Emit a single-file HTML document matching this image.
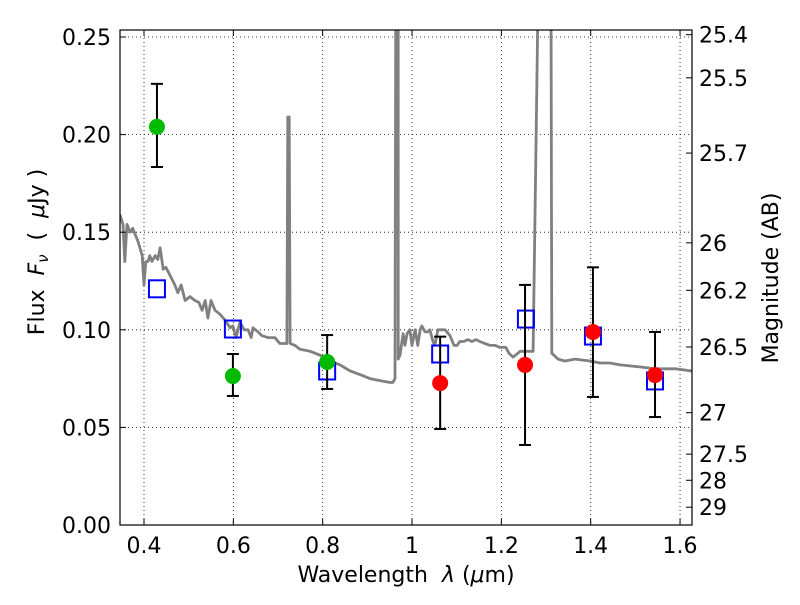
<!DOCTYPE html>
<html><head><meta charset="utf-8"><style>
body{margin:0;background:#fff}
svg text{font-family:"DejaVu Sans","Liberation Sans",sans-serif;fill:#000}
</style></head><body>
<svg id="chart" width="800" height="600" viewBox="0 0 800 600" xmlns="http://www.w3.org/2000/svg">
<defs><clipPath id="pc"><rect x="120" y="30" width="572" height="495"/></clipPath></defs>
<rect x="0" y="0" width="800" height="600" fill="#fff"/>
<g id="grid"></g>
<g id="spec" clip-path="url(#pc)"></g>
<g id="marks"></g>
<g id="axes"></g>
<text x="406" y="582" text-anchor="middle" font-size="22" xml:space="preserve">Wavelength  <tspan font-style="italic">λ</tspan> (<tspan font-style="italic">μ</tspan>m)</text>
<text transform="translate(44,252) rotate(-90)" text-anchor="middle" font-size="22" xml:space="preserve">Flux  <tspan font-style="italic">F</tspan><tspan font-style="italic" font-size="15" dy="4">ν</tspan><tspan dy="-4">  (  </tspan><tspan font-style="italic">μ</tspan>Jy )</text>
<text transform="translate(778,278) rotate(-90)" text-anchor="middle" font-size="22">Magnitude (AB)</text>
</svg>
<script>
const specW=[0.346,0.353,0.357,0.362,0.369,0.375,0.387,0.396,0.400,0.404,0.409,0.413,0.418,0.425,0.431,0.436,0.443,0.449,0.458,0.469,0.476,0.483,0.492,0.503,0.514,0.523,0.530,0.537,0.543,0.550,0.559,0.570,0.581,0.593,0.599,0.606,0.615,0.624,0.633,0.640,0.644,0.655,0.664,0.678,0.693,0.704,0.720,0.722,0.725,0.727,0.738,0.749,0.772,0.794,0.816,0.839,0.861,0.884,0.906,0.928,0.951,0.957,0.962,0.964,0.969,0.969,0.973,0.980,0.984,0.989,0.995,1.000,1.007,1.013,1.018,1.022,1.029,1.036,1.040,1.047,1.051,1.058,1.063,1.074,1.085,1.094,1.101,1.107,1.116,1.125,1.134,1.143,1.152,1.163,1.175,1.186,1.197,1.210,1.217,1.226,1.237,1.242,1.271,1.284,1.311,1.313,1.327,1.342,1.365,1.398,1.421,1.443,1.466,1.510,1.544,1.589,1.622,1.640];
const specF=[0.159,0.154,0.135,0.154,0.150,0.152,0.145,0.138,0.123,0.135,0.135,0.138,0.135,0.138,0.136,0.142,0.131,0.132,0.128,0.123,0.119,0.123,0.115,0.117,0.115,0.114,0.110,0.115,0.106,0.115,0.110,0.108,0.105,0.101,0.102,0.096,0.104,0.100,0.100,0.096,0.101,0.099,0.097,0.096,0.096,0.093,0.093,0.209,0.209,0.093,0.092,0.090,0.089,0.087,0.084,0.082,0.079,0.077,0.075,0.074,0.073,0.073,0.075,0.3,0.3,0.085,0.087,0.098,0.092,0.098,0.100,0.092,0.100,0.092,0.100,0.102,0.099,0.099,0.100,0.094,0.092,0.100,0.100,0.100,0.097,0.092,0.092,0.094,0.094,0.095,0.094,0.095,0.094,0.093,0.092,0.092,0.091,0.091,0.088,0.086,0.088,0.089,0.089,0.3,0.3,0.088,0.085,0.084,0.085,0.084,0.083,0.083,0.082,0.081,0.080,0.080,0.079,0.079];
const greenW=[0.429,0.599,0.810];
const greenF=[0.204,0.0763,0.0835];
const greenHi=[0.226,0.0876,0.0973];
const greenLo=[0.1834,0.0661,0.0697];
const redW=[1.063,1.253,1.405,1.544];
const redF=[0.0727,0.082,0.0989,0.0768];
const redHi=[0.0965,0.123,0.132,0.0989];
const redLo=[0.0492,0.041,0.0656,0.0553];
const modelW=[0.429,0.599,0.810,1.063,1.255,1.405,1.544];
const modelF=[0.121,0.1004,0.0789,0.0876,0.1055,0.0968,0.0738];
const xTicks=[0.4,0.6,0.8,1.0,1.2,1.4,1.6];
const xTickLabels=["0.4","0.6","0.8","1","1.2","1.4","1.6"];
const yTicks=[0,0.05,0.10,0.15,0.20,0.25];
const yTickLabels=["0.00","0.05","0.10","0.15","0.20","0.25"];
const magTicks=[25.4,25.5,25.7,26,26.2,26.5,27,27.5,28,29];
const magTickLabels=["25.4","25.5","25.7","26","26.2","26.5","27","27.5","28","29"];

const L=120,R=692,T=30,B=525;
const xs=w=>144+(w-0.4)*446.7;
const ys=f=>B-f*1952;
const magToF=m=>Math.pow(10,(23.9-m)/2.5);
const NS="http://www.w3.org/2000/svg";
function mk(tag,parent,attrs){const e=document.createElementNS(NS,tag);for(const k in attrs)e.setAttribute(k,attrs[k]);parent.appendChild(e);return e;}
const grid=document.getElementById('grid'),axes=document.getElementById('axes'),spec=document.getElementById('spec'),marks=document.getElementById('marks');

xTicks.forEach((t,i)=>{const x=xs(t);
 let g=mk('line',grid,{x1:x,x2:x,y1:T,y2:B,stroke:'#000','stroke-width':0.8,'stroke-dasharray':'1,3'});
 
 
 mk('line',axes,{x1:x,x2:x,y1:B,y2:B-6,stroke:'#000','stroke-width':1});
 mk('line',axes,{x1:x,x2:x,y1:T,y2:T+6,stroke:'#000','stroke-width':1});
 let tx=mk('text',axes,{x:x,y:B+28,'text-anchor':'middle','font-size':22});tx.textContent=xTickLabels[i];
 
 
});
yTicks.forEach((t,i)=>{const y=ys(t);
 let g=mk('line',grid,{x1:L,x2:R,y1:y,y2:y,stroke:'#000','stroke-width':0.8,'stroke-dasharray':'1,3'});
 
 
 mk('line',axes,{x1:L,x2:L+6,y1:y,y2:y,stroke:'#000','stroke-width':1});
 let tx=mk('text',axes,{x:L-9,y:y+8,'text-anchor':'end','font-size':22});tx.textContent=yTickLabels[i];
 
 
});
magTicks.forEach((m,i)=>{const y=ys(magToF(m));
 mk('line',axes,{x1:R,x2:R-6,y1:y,y2:y,stroke:'#000','stroke-width':1});
 let tx=mk('text',axes,{x:R+7,y:y+8,'font-size':22});tx.textContent=magTickLabels[i];
 
 
});
mk('rect',axes,{x:L,y:T,width:R-L,height:B-T,fill:'none',stroke:'#000','stroke-width':1.2});

let d=specW.map((w,i)=>(i?'L':'M')+xs(w).toFixed(1)+','+ys(specF[i]).toFixed(1)).join('');
let sp=mk('path',spec,{d:d,fill:'none',stroke:'#808080','stroke-width':2.8,'stroke-linejoin':'round'});



function errbar(w,lo,hi){const x=xs(w);
 mk('line',marks,{x1:x,x2:x,y1:ys(lo),y2:ys(hi),stroke:'#000','stroke-width':2});
 mk('line',marks,{x1:x-6,x2:x+6,y1:ys(lo),y2:ys(lo),stroke:'#000','stroke-width':2});
 mk('line',marks,{x1:x-6,x2:x+6,y1:ys(hi),y2:ys(hi),stroke:'#000','stroke-width':2});}
modelW.forEach((w,i)=>{let r=mk('rect',marks,{x:xs(w)-8,y:ys(modelF[i])-8.5,width:16,height:17,fill:'none',stroke:'#0000ff','stroke-width':2});
 
 });
greenW.forEach((w,i)=>{errbar(w,greenLo[i],greenHi[i]);
 let c=mk('circle',marks,{cx:xs(w),cy:ys(greenF[i]),r:8,fill:'#00bb00'});
 
 });
redW.forEach((w,i)=>{errbar(w,redLo[i],redHi[i]);
 let c=mk('circle',marks,{cx:xs(w),cy:ys(redF[i]),r:8,fill:'#ff0000'});
 
 });
</script>
</body></html>
